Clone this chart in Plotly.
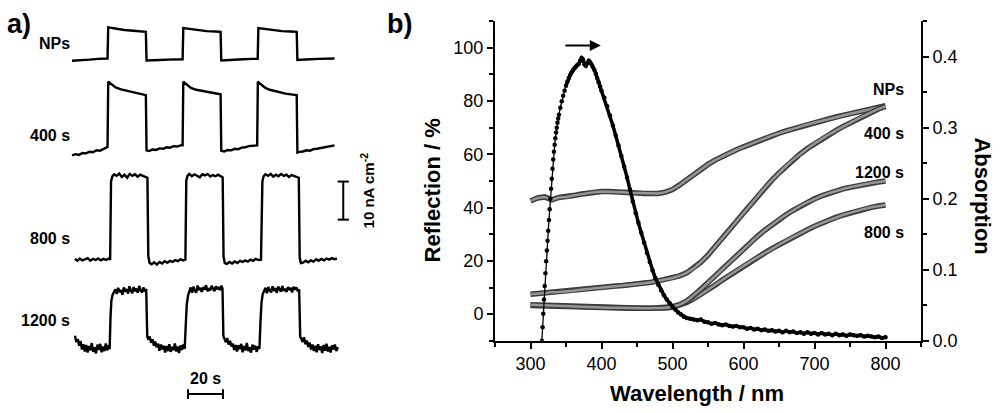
import plotly.graph_objects as go

# ---------------- panel a: photocurrent transients (time in s, current in nA cm^-2) ----------------
t_nps = [0, 5, 10, 15, 20.3, 20.7, 22, 25, 30, 35, 40, 42.2, 42.6, 45, 50, 55, 60, 63.2, 63.6, 65,
         68, 72, 77, 82, 84.9, 85.3, 88, 93, 98, 103, 106.1, 106.5, 108, 111, 115, 120, 125, 128.4,
         128.8, 131, 136, 141, 146, 150]
i_nps = [0.0, 0.1, 0.3, 0.5, 0.6, 8.8, 8.7, 8.4, 8.1, 7.9, 7.7, 7.6, 0.1, 0.1, 0.2, 0.3, 0.4, 0.4, 8.6, 8.5,
         8.3, 8.0, 7.8, 7.7, 7.6, 0.1, 0.2, 0.3, 0.4, 0.5, 0.5, 8.6, 8.5, 8.3, 8.0, 7.8, 7.7, 7.6,
         0.2, 0.3, 0.4, 0.5, 0.6, 0.6]

t_400 = [0, 2, 4, 6, 8, 10, 12, 14, 16, 18, 20.3, 20.7, 21.5, 23, 25, 28, 31, 34, 37, 40, 42.2, 42.6,
         44, 46, 48, 50, 52, 54, 56, 58, 60, 62, 63.2, 63.6, 64.4, 66, 68, 71, 74, 77, 80, 83, 84.9,
         85.3, 87, 89, 91, 93, 95, 97, 99, 101, 103, 105.8, 106.2, 107, 108.5, 110.5, 113, 116, 119,
         122, 125, 128.4, 128.8, 130, 132, 134, 136, 138, 140, 142, 144, 146, 148, 150]
i_400 = [0.0, 0.3, 0.1, 0.6, 0.5, 0.9, 0.8, 1.3, 1.2, 1.7, 2.2, 19.3, 19.0, 18.3, 17.8, 17.3, 17.0, 16.6,
         16.3, 16.0, 15.8, 1.3, 1.1, 1.5, 1.4, 1.8, 1.7, 2.1, 2.0, 2.4, 2.3, 2.6, 2.6, 19.3, 19.0, 18.2,
         17.7, 17.2, 16.9, 16.6, 16.3, 16.1, 16.0, 1.2, 1.0, 1.4, 1.3, 1.7, 1.6, 2.0, 2.1, 2.4, 2.5,
         2.6, 19.3, 19.0, 18.3, 17.7, 17.2, 16.8, 16.5, 16.2, 16.0, 15.8, 0.7, 0.9, 1.0, 1.3, 1.2, 1.6,
         1.7, 1.9, 2.1, 2.3, 2.4, 2.6]

t_800 = [1.7, 3, 4.5, 6, 7.5, 9, 10.5, 12, 13.5, 15, 16.5, 18, 19.5, 21, 21.8,
         22.3, 23,
         24, 25.5, 27, 28.5, 30, 31.5, 33, 34.5, 36, 37.5, 39, 40.5, 42, 43.1,
         43.6, 44.3,
         45.5, 47, 48.5, 50, 51.5, 53, 54.5, 56, 57.5, 59, 60.5, 62, 63.5, 64.8,
         65.3, 66,
         67, 68.5, 70, 71.5, 73, 74.5, 76, 77.5, 79, 80.5, 82, 83.5, 85, 86.1,
         86.6, 87.3,
         88.5, 90, 91.5, 93, 94.5, 96, 97.5, 99, 100.5, 102, 103.5, 105, 106.5, 108,
         108.8, 109.5,
         110.5, 112, 113.5, 115, 116.5, 118, 119.5, 121, 122.5, 124, 125.5, 127, 128.5, 129.6,
         130.1, 130.8,
         132, 133.5, 135, 136.5, 138, 139.5, 141, 142.5, 144, 145.5, 147, 148.5, 150, 151.4]
i_800 = [0.2, -0.3, 0.3, -0.2, 0.1, 0.4, -0.3, 0.2, -0.1, 0.3, -0.2, 0.2, -0.1, 0.3, 0.0,
         20.5, 21.8,
         22.4, 22.0, 22.6, 21.7, 22.3, 21.5, 22.5, 22.0, 22.4, 21.8, 22.3, 22.0, 21.8, 21.5,
         1.0, -0.8,
         -1.2, -0.7, -1.3, -0.6, -1.0, -0.4, -0.8, -0.3, -0.6, -0.1, -0.4, 0.1, -0.2, 0.0,
         20.8, 22.0,
         22.5, 21.9, 22.4, 22.0, 21.6, 22.4, 22.1, 22.5, 21.8, 22.2, 21.9, 22.3, 21.8, 21.6,
         0.8, -0.9,
         -1.1, -0.6, -1.0, -0.5, -0.9, -0.3, -0.6, -0.2, -0.5, 0.0, -0.3, 0.2, -0.1, 0.0,
         20.6, 21.9,
         22.4, 22.0, 22.5, 21.8, 22.3, 21.9, 22.5, 22.0, 22.3, 21.7, 22.2, 21.9, 21.7, 21.5,
         0.6, -0.9,
         -0.8, -0.3, -0.7, -0.2, -0.5, 0.1, -0.3, 0.2, -0.2, 0.3, 0.0, 0.4, 0.1, 0.3]

t_1200 = [1.7, 2.5, 3.3, 4.1, 4.9, 5.7, 6.5, 7.3, 8.1, 8.9, 9.7, 10.5, 11.3, 12.1, 12.9, 13.7, 14.5,
          15.3, 16.1, 16.9, 17.7, 18.5, 19.3, 20.1, 20.9, 21.5,
          22.0, 22.5, 23.2,
          24.0, 24.8, 25.6, 26.4, 27.2, 28.0, 28.8, 29.6, 30.4, 31.2, 32.0, 32.8, 33.6, 34.4, 35.2,
          36.0, 36.8, 37.6, 38.4, 39.2, 40.0, 40.8, 41.6, 42.4,
          43.0,
          43.6, 44.4, 45.2, 46.0, 46.8, 47.6, 48.4, 49.2, 50.0, 50.8, 51.6, 52.4, 53.2, 54.0, 54.8,
          55.6, 56.4, 57.2, 58.0, 58.8, 59.6, 60.4, 61.2, 62.0, 62.8, 63.6, 64.4,
          65.0, 65.6, 66.3,
          67.0, 67.8, 68.6, 69.4, 70.2, 71.0, 71.8, 72.6, 73.4, 74.2, 75.0, 75.8, 76.6, 77.4, 78.2,
          79.0, 79.8, 80.6, 81.4, 82.2, 83.0, 83.8, 84.6, 85.4, 86.0,
          86.5,
          87.1, 87.9, 88.7, 89.5, 90.3, 91.1, 91.9, 92.7, 93.5, 94.3, 95.1, 95.9, 96.7, 97.5, 98.3,
          99.1, 99.9, 100.7, 101.5, 102.3, 103.1, 103.9, 104.7, 105.5, 106.3, 107.1,
          107.7, 108.3, 109.0,
          109.8, 110.6, 111.4, 112.2, 113.0, 113.8, 114.6, 115.4, 116.2, 117.0, 117.8, 118.6, 119.4,
          120.2, 121.0, 121.8, 122.6, 123.4, 124.2, 125.0, 125.8, 126.6, 127.4, 128.2, 129.0, 129.8,
          130.4,
          131.0, 131.8, 132.6, 133.4, 134.2, 135.0, 135.8, 136.6, 137.4, 138.2, 139.0, 139.8, 140.6,
          141.4, 142.2, 143.0, 143.8, 144.6, 145.4, 146.2, 147.0, 147.8, 148.6, 149.4, 150.2, 151.0,
          152.0]
i_1200 = [3.2, 1.6, 2.4, 0.6, 1.8, -0.4, 1.0, -0.9, 0.8, -1.2, 0.5, -0.6, 1.3, -1.0, 0.2, -1.4, 0.9,
          -0.5, 1.1, -1.1, 0.4, -0.8, 1.2, -0.6, 0.7, -0.3,
          8.0, 12.5, 14.0,
          14.6, 15.4, 14.2, 15.8, 14.7, 15.2, 14.0, 15.9, 14.8, 15.5, 14.3, 16.2, 15.0, 14.4, 16.0,
          14.9, 15.6, 14.5, 16.3, 15.1, 14.6, 15.9, 14.8, 15.5,
          3.0,
          2.2, 3.0, 1.4, 2.3, 0.6, 1.7, 0.2, 1.1, -0.7, 0.9, -0.4, 0.6, -1.2, 0.5, -0.8,
          1.0, -1.0, 0.3, -0.6, 1.2, -0.9, 0.4, -1.3, 0.7, -0.5, 0.9, -0.2,
          6.0, 11.5, 13.8,
          14.8, 15.9, 14.5, 16.1, 15.0, 14.6, 16.4, 15.2, 15.8, 14.7, 16.0, 15.3, 16.5, 14.9, 15.7,
          15.1, 16.3, 15.5, 14.9, 16.2, 15.4, 16.0, 15.2, 16.4, 15.6,
          3.2,
          2.4, 1.5, 2.6, 0.9, 1.9, 0.4, 1.2, -0.5, 0.8, -0.9, 0.7, -0.3, 1.1, -1.1, 0.5,
          -0.6, 1.3, -0.8, 0.2, -1.2, 0.9, -0.4, 0.6, -1.0, 0.4, -0.2,
          7.0, 12.0, 14.2,
          14.9, 15.8, 14.4, 16.0, 15.1, 14.6, 16.2, 15.0, 15.7, 14.5, 16.1, 15.3, 14.8,
          16.3, 15.0, 15.6, 14.7, 16.0, 15.2, 15.8, 14.6, 16.1, 15.3, 15.9, 14.9, 15.4,
          3.0,
          2.5, 1.6, 2.8, 1.0, 2.0, 0.3, 1.4, -0.4, 0.9, -0.8, 0.6, -1.1, 1.0,
          -0.5, 0.4, -1.3, 0.8, -0.7, 1.1, -0.9, 0.3, -1.2, 0.7, -0.4, 0.9, -0.8,
          0.2]

sample_names = ["NPs", "400 s", "800 s", "1200 s"]

# ---------------- panel b: spectra ----------------
wavelength = [300, 310, 320, 330, 340, 350, 360, 370, 380, 390, 400, 410, 420, 430, 440, 450, 460,
              470, 480, 490, 500, 510, 520, 530, 540, 550, 560, 570, 580, 590, 600, 610, 620, 630,
              640, 650, 660, 670, 680, 690, 700, 710, 720, 730, 740, 750, 760, 770, 780, 790, 800]
refl_nps = [42.5, 43.6, 44.0, 42.9, 43.8, 44.0, 44.5, 45.0, 45.5, 45.8, 46.0, 46.0, 46.0, 45.8, 45.6,
            45.5, 45.3, 45.2, 45.3, 45.8, 46.8, 48.5, 50.5, 52.5, 54.5, 56.2, 57.8, 59.2, 60.5, 61.7,
            62.8, 63.9, 65.0, 66.0, 67.0, 67.9, 68.8, 69.6, 70.4, 71.2, 71.9, 72.6, 73.3, 74.0, 74.6,
            75.2, 75.8, 76.4, 77.0, 77.6, 78.2]
refl_400 = [7.5, 7.8, 8.0, 8.2, 8.3, 8.5, 8.8, 9.2, 9.5, 9.8, 10.0, 10.3, 10.6, 10.8, 11.0, 11.2, 11.6,
            12.0, 12.5, 13.0, 13.6, 14.4, 15.5, 17.2, 19.5, 22.2, 25.2, 28.4, 31.6, 34.8, 38.0, 41.2,
            44.4, 47.4, 50.3, 53.0, 55.6, 58.0, 60.2, 62.2, 64.0, 65.8, 67.4, 68.9, 70.4, 71.8, 73.2,
            74.5, 75.8, 77.0, 78.0]
refl_800 = [3.3, 3.2, 3.1, 2.9, 2.8, 2.7, 2.6, 2.5, 2.5, 2.4, 2.4, 2.3, 2.3, 2.2, 2.2, 2.2, 2.1,
            2.1, 2.2, 2.3, 2.6, 3.3, 4.4, 5.8, 7.4, 9.1, 10.9, 12.8, 14.6, 16.4, 18.1, 19.8, 21.4,
            23.0, 24.6, 26.1, 27.6, 29.0, 30.4, 31.7, 33.0, 34.2, 35.3, 36.3, 37.2, 38.0, 38.8, 39.5,
            40.1, 40.6, 41.0]
refl_1200 = [3.5, 3.4, 3.2, 3.0, 2.9, 2.8, 2.7, 2.6, 2.6, 2.5, 2.5, 2.4, 2.4, 2.3, 2.3, 2.3, 2.2,
             2.2, 2.3, 2.4, 2.8, 3.6, 5.0, 7.0, 9.3, 11.8, 14.3, 16.9, 19.5, 22.0, 24.5, 27.0, 29.3,
             31.5, 33.6, 35.5, 37.3, 39.0, 40.6, 42.0, 43.3, 44.4, 45.4, 46.3, 47.0, 47.6, 48.2, 48.7,
             49.2, 49.6, 50.0]

abs_wavelength = [316, 317, 318, 319, 320, 321, 322, 323, 324, 325, 326, 327, 328, 329, 330, 331, 332,
                  333, 334, 335, 336, 337, 338, 339, 340, 342, 344, 346, 348, 350, 352, 354, 356, 358,
                  360, 362, 364, 366, 368, 370, 372, 374, 376, 378, 380, 382, 384, 386, 388, 390, 392,
                  394, 396, 398, 400, 404, 408, 412, 416, 420, 424, 428, 432, 436, 440, 444, 448, 452,
                  456, 460, 464, 468, 472, 476, 480, 484, 488, 492, 496, 500, 504, 508, 512, 516, 520,
                  525, 530, 535, 540, 545, 550, 555, 560, 565, 570, 575, 580, 585, 590, 595, 600, 605,
                  610, 615, 620, 625, 630, 635, 640, 645, 650, 655, 660, 665, 670, 675, 680, 685, 690,
                  695, 700, 705, 710, 715, 720, 725, 730, 735, 740, 745, 750, 755, 760, 765, 770, 775,
                  780, 785, 790, 795, 800]
absorption = [0.000, 0.019, 0.038, 0.058, 0.077, 0.095, 0.112, 0.127, 0.141, 0.155, 0.170, 0.185,
              0.200, 0.214, 0.228, 0.242, 0.255, 0.266, 0.276, 0.285, 0.293, 0.300, 0.307, 0.313,
              0.318, 0.328, 0.337, 0.345, 0.352, 0.359, 0.365, 0.370, 0.374, 0.378, 0.381, 0.384,
              0.386, 0.388, 0.390, 0.394, 0.398, 0.396, 0.389, 0.387, 0.391, 0.394, 0.392, 0.389,
              0.385, 0.381, 0.376, 0.370, 0.364, 0.358, 0.352, 0.342, 0.330, 0.317, 0.303, 0.289,
              0.275, 0.260, 0.245, 0.230, 0.213, 0.196, 0.180, 0.166, 0.152, 0.138, 0.124, 0.111,
              0.099, 0.088, 0.079, 0.071, 0.064, 0.058, 0.053, 0.048, 0.044, 0.040, 0.037, 0.034,
              0.032, 0.031, 0.030, 0.029, 0.030, 0.027, 0.026, 0.024, 0.025, 0.023, 0.022, 0.023,
              0.021, 0.020, 0.021, 0.019, 0.019, 0.017, 0.018, 0.016, 0.017, 0.015, 0.016, 0.014,
              0.015, 0.013, 0.014, 0.012, 0.014, 0.012, 0.013, 0.011, 0.012, 0.010, 0.012, 0.010,
              0.011, 0.009, 0.011, 0.009, 0.010, 0.008, 0.010, 0.008, 0.009, 0.007, 0.009, 0.008,
              0.007, 0.008, 0.006, 0.007, 0.006, 0.005, 0.006, 0.004, 0.005, 0.003, 0.004]

FONT = "Liberation Sans, Arial, sans-serif"
W = 1000
REF_H = 413      # height of the reference picture; positions below are read in its pixels
H = 424          # figure height: the page shot comes out slightly squeezed vertically

# vertical stacking offsets of the transients (same units as current)
offsets = {"NPs": 89.3, "400 s": 64.5, "800 s": 37.1, "1200 s": 13.9}


def px(x):
    return x / W


def py(y):
    return 1 - y / REF_H


fig = go.Figure()

# ---- panel a ----
for name, t, cur in [("NPs", t_nps, i_nps), ("400 s", t_400, i_400),
                     ("800 s", t_800, i_800), ("1200 s", t_1200, i_1200)]:
    fig.add_trace(go.Scatter(x=t, y=[c + offsets[name] for c in cur], mode="lines",
                             line=dict(color="black", width=2.4), xaxis="x", yaxis="y",
                             showlegend=False, hoverinfo="skip"))

# scale bars: 10 nA cm^-2 and 20 s
fig.add_trace(go.Scatter(x=[155, 155], y=[47.6, 57.6], mode="lines+markers",
                         line=dict(color="black", width=2),
                         marker=dict(symbol="line-ew", size=8, line=dict(width=2, color="black")),
                         xaxis="x", yaxis="y", showlegend=False, hoverinfo="skip"))
fig.add_trace(go.Scatter(x=[66.3, 86.3], y=[1.8, 1.8], mode="lines+markers",
                         line=dict(color="black", width=2),
                         marker=dict(symbol="line-ns", size=7, line=dict(width=2, color="black")),
                         xaxis="x", yaxis="y", showlegend=False, hoverinfo="skip"))

# ---- panel b ----
for refl in [refl_nps, refl_400, refl_800, refl_1200]:
    fig.add_trace(go.Scatter(x=wavelength, y=refl, mode="lines", line=dict(color="#3c3c3c", width=5.5),
                             xaxis="x2", yaxis="y2", showlegend=False, hoverinfo="skip"))
    fig.add_trace(go.Scatter(x=wavelength, y=refl, mode="lines", line=dict(color="#969696", width=2.5),
                             xaxis="x2", yaxis="y2", showlegend=False, hoverinfo="skip"))

fig.add_trace(go.Scatter(x=abs_wavelength, y=absorption, mode="lines+markers",
                         line=dict(color="black", width=1.3),
                         marker=dict(color="black", size=4.5),
                         xaxis="x2", yaxis="y3", showlegend=False, hoverinfo="skip"))
# dense part of the same curve looks like a solid thick line
dense = [k for k, w in enumerate(abs_wavelength) if w >= 350]
fig.add_trace(go.Scatter(x=[abs_wavelength[k] for k in dense], y=[absorption[k] for k in dense],
                         mode="lines", line=dict(color="black", width=3.5),
                         xaxis="x2", yaxis="y3", showlegend=False, hoverinfo="skip"))

axis_common = dict(showgrid=False, zeroline=False, showline=True, linecolor="black", linewidth=2,
                   ticks="outside", tickwidth=2, ticklen=6, tickcolor="black",
                   tickfont=dict(family=FONT, size=18, color="black"))

fig.update_layout(
    width=W, height=H, margin=dict(l=0, r=0, t=0, b=0),
    paper_bgcolor="white", plot_bgcolor="white", showlegend=False,
    xaxis=dict(domain=[px(60), px(360)], range=[-6.857, 164.57], visible=False, anchor="y"),
    yaxis=dict(domain=[py(400), py(20)], range=[0, 100], visible=False, anchor="x"),
    xaxis2=dict(domain=[px(495), px(921)], range=[250, 850], anchor="y2",
                tickvals=[300, 400, 500, 600, 700, 800],
                minor=dict(tickvals=[250, 350, 450, 550, 650, 750, 850], ticklen=4, tickwidth=2,
                           ticks="outside", tickcolor="black"),
                **axis_common),
    yaxis2=dict(domain=[py(340), py(21)], range=[-10, 110], anchor="x2",
                tickvals=[0, 20, 40, 60, 80, 100],
                minor=dict(tickvals=[-10, 10, 30, 50, 70, 90, 110], ticklen=4, tickwidth=2,
                           ticks="outside", tickcolor="black"),
                **axis_common),
    yaxis3=dict(range=[0, 0.45], overlaying="y2", side="right", anchor="x2",
                tickvals=[0.0, 0.1, 0.2, 0.3, 0.4], tickformat=".1f",
                minor=dict(tickvals=[0.05, 0.15, 0.25, 0.35, 0.45], ticklen=4, tickwidth=2,
                           ticks="outside", tickcolor="black"),
                **axis_common),
)

bold = dict(family=FONT, color="black")
ann = []
# panel letters
ann.append(dict(text="<b>a)</b>", x=px(5), y=py(24), xanchor="left", yanchor="middle",
                font=dict(size=27, **bold)))
ann.append(dict(text="<b>b)</b>", x=px(385), y=py(24), xanchor="left", yanchor="middle",
                font=dict(size=27, **bold)))
# panel a sample labels
for name, ypix in zip(sample_names, [43, 135, 238, 320]):
    ann.append(dict(text="<b>%s</b>" % name, x=px(72), y=py(ypix), xanchor="right", yanchor="middle",
                    font=dict(size=16, **bold)))
ann.append(dict(text="<b>20 s</b>", x=px(205), y=py(378), xanchor="center", yanchor="middle",
                font=dict(size=16, **bold)))
ann.append(dict(text="<b>10 nA cm<sup>-2</sup></b>", x=px(367), y=py(190), textangle=-90,
                xanchor="center", yanchor="middle", font=dict(size=15, **bold)))
# panel b curve labels
for name, ypix in zip(["NPs", "400 s", "1200 s", "800 s"], [89, 133, 172, 232]):
    ann.append(dict(text="<b>%s</b>" % name, x=px(906), y=py(ypix), xanchor="right", yanchor="middle",
                    font=dict(size=16, **bold)))
# axis titles
ann.append(dict(text="<b>Reflection / %</b>", x=px(432), y=py(190), textangle=-90,
                xanchor="center", yanchor="middle", font=dict(size=22, **bold)))
ann.append(dict(text="<b>Absorption</b>", x=px(983), y=py(195), textangle=90,
                xanchor="center", yanchor="middle", font=dict(size=22, **bold)))
ann.append(dict(text="<b>Wavelength / nm</b>", x=px(697), y=py(393), xanchor="center", yanchor="middle",
                font=dict(size=22, **bold)))
for a in ann:
    a.update(xref="paper", yref="paper", showarrow=False)

# arrow: black curve belongs to the right axis
ann.append(dict(x=399, y=100.8, ax=347, ay=100.8, xref="x2", yref="y2", axref="x2", ayref="y2",
                showarrow=True, arrowhead=2, arrowsize=1.1, arrowwidth=2, arrowcolor="black", text=""))
fig.update_layout(annotations=ann)

fig.write_html("out.html", config={"displayModeBar": False},
               post_script="document.body.style.margin='0';document.body.style.overflow='hidden';")
